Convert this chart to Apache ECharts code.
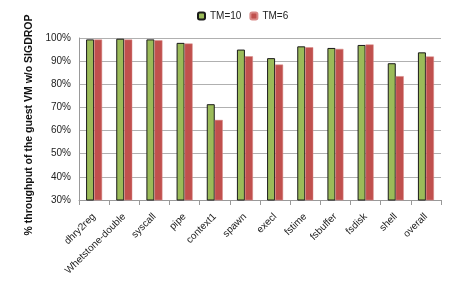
<!DOCTYPE html>
<html><head><meta charset="utf-8">
<script src="https://cdn.jsdelivr.net/npm/echarts@6/dist/echarts.min.js"></script>
<style>html,body{margin:0;padding:0;background:#fff}#c{width:471px;height:284px}</style>
</head><body><div id="c"></div>
<script>
const categories = ['dhry2reg','Whetstone-double','syscall','pipe','context1','spawn','execl','fstime','fsbuffer','fsdisk','shell','overall'];
const tm10 = [99.4, 99.7, 99.4, 97.9, 71.4, 95.0, 91.3, 96.4, 95.7, 97.0, 89.1, 93.8];
const tm6 = [99.3, 99.3, 99.0, 97.6, 64.6, 92.1, 88.5, 96.0, 95.3, 97.2, 83.5, 92.0];
const seriesNames = ['TM=10','TM=6'];
const yTicks = {min: 30, max: 100, interval: 10};
const chart = echarts.init(document.getElementById('c'), null, {renderer: 'canvas'});
const font = 'Liberation Sans, Arial, sans-serif';
chart.setOption({
  animation: false,
  textStyle: {fontFamily: font},
  legend: {
    top: 6, left: 192, itemWidth: 7, itemHeight: 7, itemGap: 8,
    textStyle: {fontSize: 10, color: '#222', fontFamily: font},
    data: seriesNames
  },
  grid: {left: 79, right: 30, top: 38, bottom: 84},
  xAxis: {
    type: 'category', data: categories,
    axisLine: {lineStyle: {color: '#999'}},
    axisTick: {show: true, length: 5, lineStyle: {color: '#999'}},
    axisLabel: {rotate: 45, fontSize: 10, color: '#222', margin: 15, interval: 0}
  },
  yAxis: {
    type: 'value', min: yTicks.min, max: yTicks.max, interval: yTicks.interval,
    name: '% throughput of the guest VM w/o SIGDROP',
    nameLocation: 'middle', nameGap: 44, nameRotate: 90,
    nameTextStyle: {fontSize: 10.5, fontWeight: 'bold', color: '#111', fontFamily: font, padding: [0, 12, 0, 0]},
    axisLine: {show: true, lineStyle: {color: '#999'}},
    axisTick: {show: false},
    axisLabel: {formatter: '{value}%', fontSize: 10, color: '#222', margin: 8},
    splitLine: {lineStyle: {color: '#b0b0b0', width: 1}}
  },
  series: [
    {name: seriesNames[0], type: 'bar', data: tm10, barWidth: 8, barGap: '0%',
     itemStyle: {color: '#9BBB59', borderColor: '#1a1a1a', borderWidth: 1}},
    {name: seriesNames[1], type: 'bar', data: tm6, barWidth: 8,
     itemStyle: {color: '#C0504D', borderColor: '#d98a88', borderWidth: 0.5}}
  ]
});
</script></body></html>
